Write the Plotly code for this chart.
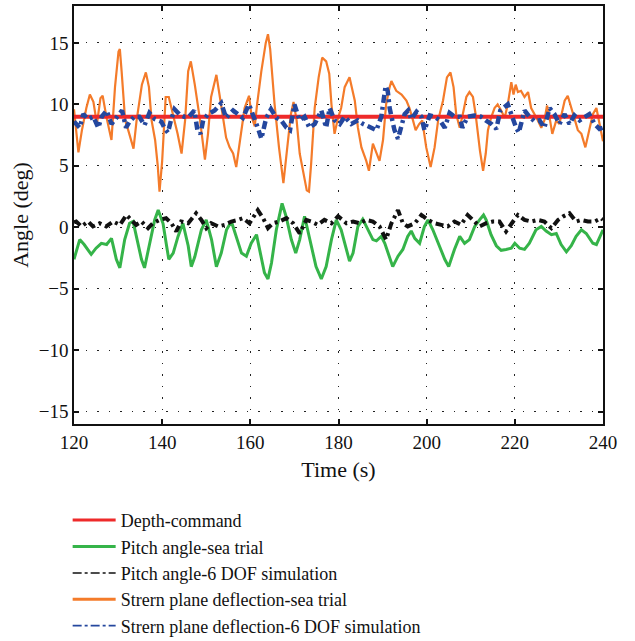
import plotly.graph_objects as go

# ---------------- data ----------------
depth_t = [120, 240]
depth_v = [9.0, 9.0]

pitch_sea_t = [120.0, 120.2, 121.3, 122.3, 123.9, 125.0, 126.2, 127.4, 128.5, 129.6, 130.4, 131.5, 132.6, 133.4,
               134.1, 135.3, 136.0, 137.2, 138.3, 139.1, 140.2, 141.0, 141.5, 142.5, 143.6, 144.7, 145.9, 146.6,
               147.4, 148.9, 150.0, 151.2, 152.3, 153.4, 154.6, 155.7, 156.8, 158.0, 159.1, 160.2, 161.4, 162.5,
               163.2, 164.0, 164.8, 165.9, 167.2, 168.1, 169.3, 170.3, 171.2, 172.3, 173.4, 174.9, 176.1, 177.2,
               178.4, 179.5, 180.6, 182.5, 183.3, 184.4, 185.5, 186.7, 187.8, 188.6, 189.7, 190.5, 191.2, 192.3,
               193.5, 194.6, 195.7, 196.5, 197.3, 198.4, 199.5, 200.3, 201.4, 202.9, 204.1, 205.0, 206.3, 207.5,
               208.6, 209.7, 210.9, 212.0, 212.9, 213.5, 214.6, 215.8, 216.9, 218.0, 219.2, 220.0, 221.1, 222.2,
               223.3, 224.8, 226.0, 227.1, 228.3, 229.4, 230.5, 231.7, 232.8, 233.9, 235.1, 236.2, 237.7, 238.5,
               239.6, 240.0]
pitch_sea_v = [-2.6, -2.35, -1.0, -1.4, -2.2, -1.7, -1.3, -1.4, -0.9, -2.6, -3.3, -1.0, 0.33, 0.47,
               -0.74, -2.6, -3.3, -1.3, 0.6, 1.4, 0.3, -1.5, -2.6, -2.1, -0.74, 0.33, -1.5, -3.2,
               -2.4, -0.2, 0.6, -1.0, -3.2, -2.1, -0.2, 0.47, -0.74, -2.1, -2.35, -1.3, -0.6, -2.35,
               -3.7, -4.2, -2.9, -0.2, 1.95, 0.9, -1.0, -2.1, -1.0, 0.9, -0.74, -3.2, -4.2, -3.2,
               -1.0, 0.6, -0.2, -2.75, -2.1, 0.07, 0.66, -0.2, -1.0, -1.1, -0.74, -1.3, -2.1, -3.2,
               -2.35, -1.8, -0.74, -0.3, -0.9, -1.3, 0.07, 0.6, -0.2, -1.5, -2.6, -3.2, -1.8, -0.74,
               -1.3, -1.0, 0.07, 0.6, 1.0, 0.6, -0.6, -1.5, -1.87, -1.8, -1.7, -1.3, -1.7, -1.8,
               -1.3, -0.2, 0.07, -0.3, -0.6, -0.5, -1.4, -2.0, -1.5, -0.74, -0.2, -0.5, -1.3, -1.4,
               -0.6, -0.2]

pitch_sim_t = [120.0, 120.5, 121.7, 123.2, 124.3, 125.8, 127.3, 128.9, 130.4, 131.9, 133.0, 134.1, 135.3, 136.8,
               137.9, 139.4, 140.9, 142.1, 143.2, 144.3, 145.9, 147.7, 148.9, 150.0, 151.1, 152.7, 154.2, 155.7,
               157.2, 158.3, 159.8, 161.7, 162.9, 164.0, 165.1, 166.6, 168.2, 169.7, 171.2, 172.7, 173.8, 175.3,
               176.8, 178.4, 179.9, 181.8, 183.3, 184.8, 186.3, 187.8, 189.3, 190.8, 192.0, 193.5, 194.6, 195.7,
               197.3, 198.8, 200.3, 201.8, 203.3, 204.8, 206.3, 207.8, 209.3, 210.9, 212.0, 213.5, 215.0, 216.5,
               218.0, 219.6, 220.7, 222.2, 223.7, 225.2, 226.7, 228.3, 229.8, 230.9, 232.4, 233.9, 235.1, 236.6,
               238.1, 239.6, 240.0]
pitch_sim_v = [0.4, 0.47, 0.07, 0.47, 0.07, 0.33, 0.07, 0.47, 0.2, 1.0, 0.6, 0.2, 0.47, -0.07,
               0.33, 0.6, 0.74, 0.33, -0.34, 0.47, 0.33, 1.14, 0.6, -0.07, 0.33, 0.07, 0.2, 0.47,
               0.6, 0.74, 0.33, 1.4, 0.74, -0.07, 0.33, 0.47, 0.74, 0.33, -0.5, 0.6, 0.47, 0.2,
               0.6, 0.33, 0.9, 0.33, 0.47, 0.33, 0.6, 0.47, 0.07, -1.0, 0.33, 1.4, 0.33, 0.07,
               0.33, 1.0, 0.6, 0.33, 0.2, 0.07, 0.47, 0.2, 1.0, 0.47, 0.07, 0.33, 0.47, 0.47,
               -0.34, 0.47, 1.0, 0.6, 0.47, 0.6, 0.47, -0.07, 0.6, 0.87, 1.14, 0.47, 0.6, 0.47,
               0.47, 0.74, 0.6]

stern_sea_t = [120.0, 120.5, 121.0, 121.8, 122.8, 123.6, 124.4, 125.2, 126.0, 126.5, 127.4, 128.5, 129.3, 130.1,
               130.4, 130.8, 131.6, 132.3, 133.5, 134.2, 135.4, 136.3, 137.0, 137.6, 138.4, 139.0, 139.4, 140.0,
               140.8, 141.5, 142.5, 143.5, 144.4, 145.2, 145.9, 146.5, 147.4, 148.6, 149.7, 150.4, 151.1, 152.3,
               153.0, 153.8, 154.5, 155.3, 156.1, 156.8, 157.6, 158.7, 159.7, 160.3, 161.0, 161.5, 162.5, 163.5,
               164.0, 164.5, 165.5, 166.5, 167.5, 168.2, 169.2, 169.8, 170.5, 171.2, 172.0, 172.8, 173.3, 173.8,
               174.6, 175.5, 176.3, 177.2, 177.9, 178.4, 179.1, 179.9, 180.6, 181.4, 182.5, 183.7, 184.4, 185.2,
               186.3, 186.9, 187.8, 188.6, 189.3, 190.1, 190.8, 191.6, 192.0, 193.1, 194.3, 195.4, 196.1, 196.9,
               197.5, 198.3, 199.0, 199.9, 200.9, 201.8, 202.6, 203.7, 204.6, 205.4, 206.1, 206.7, 207.5, 208.2,
               209.0, 209.7, 210.5, 211.1, 211.6, 212.1, 212.8, 213.4, 213.9, 214.6, 215.4, 216.1, 216.9, 217.7,
               218.4, 219.2, 219.7, 220.2, 220.7, 221.4, 222.2, 223.0, 223.7, 224.5, 225.2, 226.0, 226.7, 227.3,
               227.9, 228.5, 229.4, 230.1, 231.3, 232.0, 232.8, 233.5, 234.3, 235.1, 236.0, 237.0, 237.7, 238.5,
               239.1, 240.0]
stern_sea_v = [9.6, 8.0, 6.1, 7.9, 9.7, 10.8, 10.2, 8.4, 10.5, 10.7, 8.9, 7.1, 11.4, 14.3,
               14.5, 12.7, 8.7, 7.9, 6.4, 8.7, 11.6, 12.6, 11.4, 8.7, 7.1, 5.0, 2.9, 5.4,
               10.6, 10.6, 9.2, 7.6, 6.0, 8.7, 12.7, 13.5, 11.6, 8.7, 5.5, 7.6, 10.6, 12.4,
               10.8, 8.9, 7.3, 6.5, 6.0, 4.9, 7.1, 9.7, 10.7, 9.0, 8.2, 9.9, 12.7, 15.0,
               15.7, 14.5, 10.0, 6.5, 3.6, 6.0, 9.2, 10.2, 8.7, 6.0, 4.4, 3.0, 2.9, 5.2,
               9.7, 12.2, 13.8, 13.5, 12.5, 10.0, 7.6, 8.9, 9.7, 11.4, 12.2, 10.3, 8.1, 6.5,
               5.4, 4.6, 6.8, 6.0, 5.4, 7.1, 10.0, 11.4, 11.9, 11.1, 10.8, 10.3, 9.7, 8.7,
               7.9, 8.4, 8.7, 6.5, 4.9, 6.5, 8.7, 10.3, 12.2, 12.6, 11.4, 9.2, 8.1, 9.2,
               10.6, 11.0, 10.6, 9.2, 7.6, 6.2, 4.6, 6.0, 7.9, 8.9, 9.7, 10.0, 9.5, 8.9,
               10.0, 11.8, 10.8, 11.6, 11.0, 11.1, 10.6, 11.0, 9.7, 9.2, 8.7, 8.1, 8.7, 9.9,
               8.9, 7.6, 8.7, 8.4, 10.3, 10.7, 9.7, 8.7, 7.9, 7.6, 6.5, 8.1, 9.2, 9.7,
               8.7, 7.0]

stern_sim_t = [120.0, 120.5, 121.3, 122.1, 123.2, 124.4, 125.5, 126.3, 127.4, 128.5, 129.7, 130.9, 131.8, 132.6,
               133.7, 134.8, 136.0, 137.1, 138.3, 139.8, 140.5, 141.3, 142.0, 142.8, 143.9, 145.0, 146.1, 147.3,
               148.0, 148.7, 149.3, 150.4, 151.9, 153.4, 154.5, 156.1, 157.2, 158.3, 159.7, 160.6, 161.7, 162.5,
               163.6, 164.7, 165.9, 167.0, 168.2, 169.0, 170.0, 171.2, 172.3, 173.4, 174.6, 176.1, 177.2, 178.0,
               179.1, 180.3, 181.4, 182.9, 184.4, 185.6, 187.1, 188.6, 189.7, 190.1, 190.7, 191.2, 191.6, 192.2,
               192.7, 193.5, 194.3, 195.0, 195.8, 196.5, 197.7, 198.8, 199.5, 200.7, 201.8, 203.0, 204.1, 205.2,
               206.3, 207.5, 208.1, 209.3, 210.8, 212.3, 213.4, 214.7, 215.8, 216.7, 218.4, 219.2, 220.3, 220.9,
               222.2, 223.3, 224.5, 225.6, 226.7, 227.9, 229.0, 230.1, 231.3, 232.4, 233.5, 234.7, 235.8, 236.9,
               238.1, 239.2, 240.0]
stern_sim_v = [8.6, 8.4, 8.1, 9.2, 8.8, 9.0, 8.1, 9.0, 9.5, 8.4, 9.0, 9.5, 8.1, 8.6,
               9.0, 9.0, 8.3, 9.3, 8.8, 8.6, 8.1, 7.7, 8.7, 9.6, 9.2, 9.0, 9.0, 9.5,
               7.9, 7.6, 8.7, 9.2, 9.5, 10.1, 8.9, 9.5, 9.2, 8.9, 10.0, 9.2, 8.1, 7.2,
               8.9, 9.6, 8.9, 8.7, 8.1, 7.9, 10.0, 8.7, 9.0, 8.1, 8.4, 9.5, 8.1, 9.7,
               8.7, 8.4, 9.0, 8.4, 8.7, 8.4, 8.1, 7.9, 9.0, 10.0, 11.5, 11.0, 9.7, 8.7,
               7.9, 7.2, 8.4, 9.2, 9.5, 8.8, 9.4, 9.0, 7.9, 9.1, 9.0, 8.7, 8.1, 9.3,
               9.0, 9.0, 8.1, 9.0, 9.1, 9.0, 8.7, 8.4, 8.0, 9.5, 10.0, 9.1, 8.1, 7.7,
               9.5, 9.0, 8.6, 8.7, 8.1, 9.7, 9.2, 8.4, 9.2, 8.4, 9.1, 8.7, 9.0, 9.2,
               8.4, 8.0, 8.1]

x_ticks = [120, 140, 160, 180, 200, 220, 240]
y_ticks = [-15, -10, -5, 0, 5, 10, 15]
x_title = "Time (s)"
y_title = "Angle (deg)"

# ---------------- figure ----------------
FONT = "Liberation Serif"
DASHDOT = "8px,4px,3px,4px"

# series: (name, t, v, colour, plot width, dash, legend width, legend rank)
series = [
    ("Strern plane deflection-sea trial", stern_sea_t, stern_sea_v, "#F47B2A", 2.2, "solid", 3, 4),
    ("Depth-command", depth_t, depth_v, "#EE2A2A", 4, "solid", 3, 1),
    ("Strern plane deflection-6 DOF simulation", stern_sim_t, stern_sim_v, "#24479E", 4.5, DASHDOT, 1.8, 5),
    ("Pitch angle-sea trial", pitch_sea_t, pitch_sea_v, "#35B449", 3, "solid", 3, 2),
    ("Pitch angle-6 DOF simulation", pitch_sim_t, pitch_sim_v, "#111111", 4, DASHDOT, 1.5, 3),
]

fig = go.Figure()
for name, t, v, col, w, dash, lw, rank in series:
    fig.add_trace(go.Scatter(x=t, y=v, mode="lines", name=name, legendgroup=name, showlegend=False,
                             line=dict(color=col, width=w, dash=dash)))
for name, t, v, col, w, dash, lw, rank in series:
    # legend entry with the thinner sample line shown in the reference key
    fig.add_trace(go.Scatter(x=[None], y=[None], mode="lines", name=name, legendgroup=name,
                             showlegend=True, legendrank=rank, hoverinfo="skip",
                             line=dict(color=col, width=lw, dash="dashdot" if dash != "solid" else "solid")))

axis_common = dict(
    showline=True, linecolor="#111111", linewidth=1.5, mirror="ticks",
    ticks="inside", ticklen=5, tickwidth=2, tickcolor="#111111",
    showgrid=True, gridcolor="#222222", gridwidth=1.2, griddash="1.5px,10px",
    zeroline=False, automargin=False, tickfont=dict(family=FONT, size=19, color="#111111"),
)

fig.update_xaxes(range=[120, 240], tickvals=x_ticks, ticktext=[str(v) for v in x_ticks],
                 title=dict(text=x_title, font=dict(family=FONT, size=22, color="#111111"), standoff=10),
                 **axis_common)
fig.update_yaxes(range=[-16, 18], tickvals=y_ticks, ticktext=[("\u2212" + str(-v)) if v < 0 else str(v) for v in y_ticks],
                 title=dict(text=y_title, font=dict(family=FONT, size=22, color="#111111"), standoff=4),
                 **axis_common)

fig.update_layout(
    width=635, height=641,
    margin=dict(l=74, r=32, t=6, b=217),
    plot_bgcolor="white", paper_bgcolor="white",
    font=dict(family=FONT, size=18, color="#111111"),
    showlegend=True,
    legend=dict(xref="paper", yref="container", x=-0.012, y=0.217, xanchor="left", yanchor="top",
                font=dict(family=FONT, size=18, color="#111111"),
                bgcolor="rgba(0,0,0,0)", itemwidth=43, tracegroupgap=0,
                traceorder="normal", groupclick="togglegroup"),
)

fig.write_html("out.html", config={"displayModeBar": False},
               post_script="document.body.style.margin='0px';")
